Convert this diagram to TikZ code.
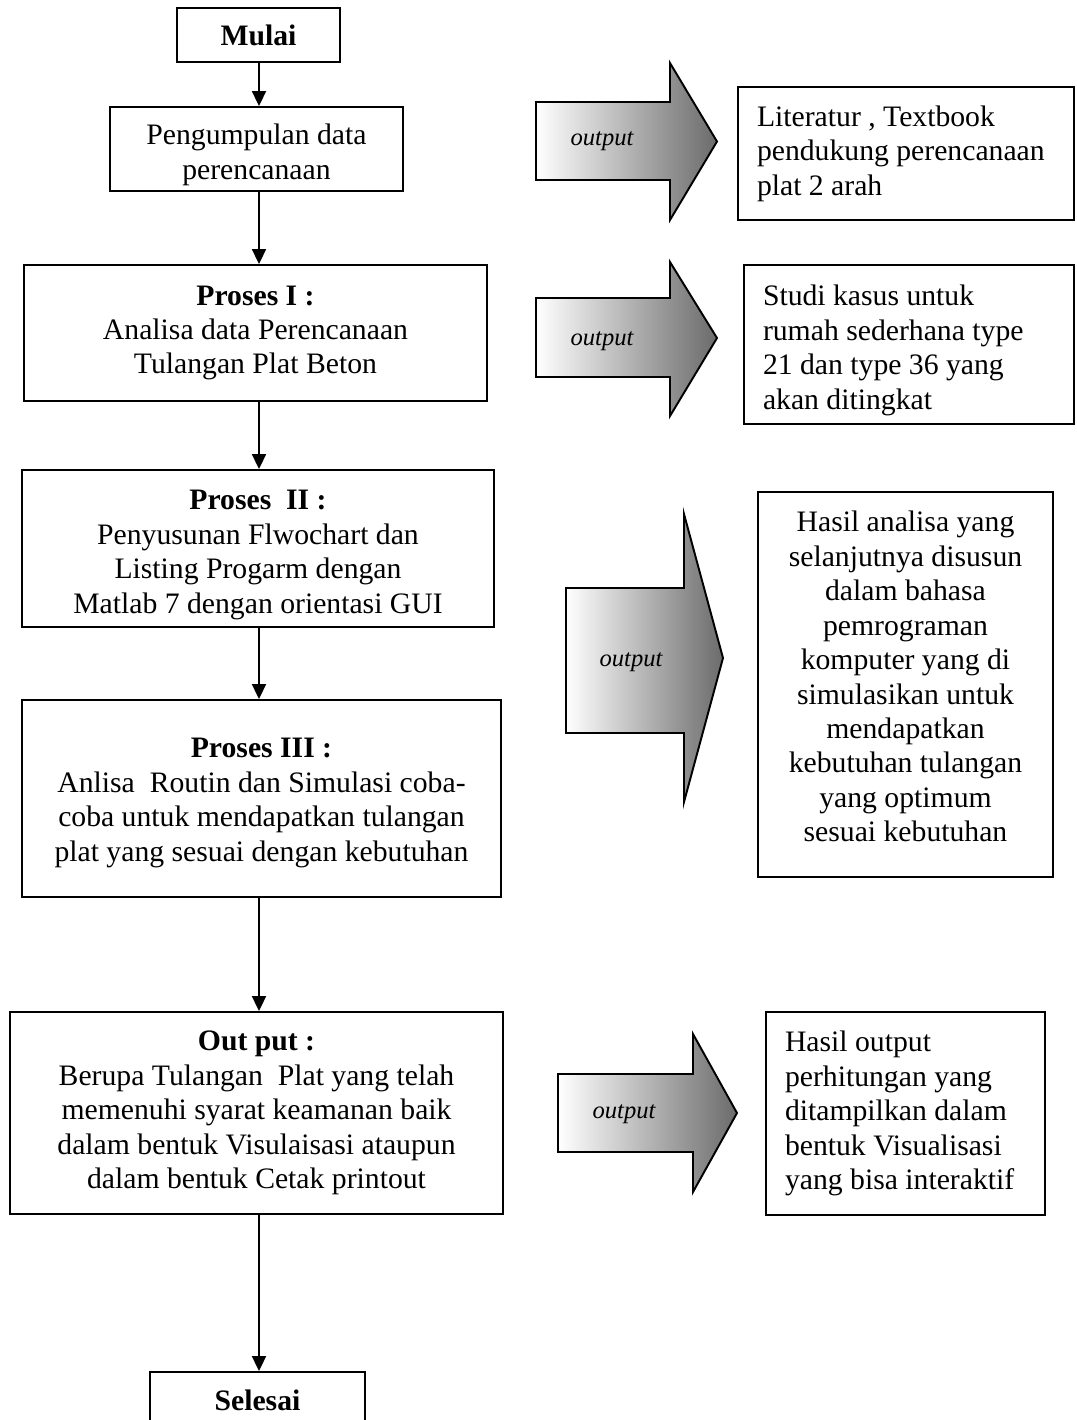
\documentclass[tikz,border=0pt]{standalone}
\usepackage{fontspec}
\setmainfont{Liberation Serif}
\usetikzlibrary{arrows.meta}
\newcommand\mainsz{\fontsize{16.9}{19.6}\selectfont}
\newcommand\outsz{\fontsize{14}{16}\selectfont\itshape}
\newcommand\downby[1]{\rule{0pt}{\dimexpr 0.69em+#1\relax}}
\newcommand\upby[1]{\rule[-#1]{0pt}{1pt}}
\begin{document}
\begin{tikzpicture}[x=0.02cm,y=-0.02cm,
  bx/.style={draw, line width=1.1pt, inner xsep=19*0.02cm, inner ysep=0pt, align=center, font=\mainsz},
  lbx/.style={bx, align=flush left},
  conn/.style={line width=0.9pt, -{Triangle[length=8.5pt,width=8pt]}},
  bigarrow/.style={draw, line width=1.1pt, left color=white, right color=black!58, line join=miter},
  outtxt/.style={font=\outsz, inner sep=0pt}]
\useasboundingbox (0,0) rectangle (1076,1420);
\clip (0,0) rectangle (1076,1420);
\coordinate (spine) at (259,0);

% left column boxes
\node[bx, minimum width=163*0.02cm, minimum height=54*0.02cm] (mulai) at (258.5,35) {\textbf{Mulai}};
\node[bx, minimum width=293*0.02cm, minimum height=84*0.02cm] (peng) at (256.5,149) {\downby{6.8pt}Pengumpulan data\\perencanaan};
\node[bx, minimum width=463*0.02cm, minimum height=136*0.02cm] (p1) at (255.5,333) {\textbf{Proses I :}\\Analisa data Perencanaan\\Tulangan Plat Beton};
\node[bx, minimum width=472*0.02cm, minimum height=157*0.02cm] (p2) at (258,548.5) {\downby{6.8pt}\textbf{Proses\ \ II :}\\Penyusunan Flwochart dan\\Listing Progarm dengan\\Matlab 7 dengan orientasi GUI};
\node[bx, minimum width=479*0.02cm, minimum height=197*0.02cm] (p3) at (261.5,798.5) {\downby{4.5pt}\textbf{Proses III :}\\Anlisa\ \ Routin dan Simulasi coba-\\coba untuk mendapatkan tulangan\\plat yang sesuai dengan kebutuhan};
\node[bx, minimum width=493*0.02cm, minimum height=202*0.02cm] (outp) at (256.5,1113) {\textbf{Out put :}\\Berupa Tulangan\ \ Plat yang telah\\memenuhi syarat keamanan baik\\dalam bentuk Visulaisasi ataupun\\dalam bentuk Cetak printout};
\node[bx, minimum width=215*0.02cm, minimum height=56*0.02cm] (selesai) at (257.5,1400) {\textbf{Selesai}};

% connectors
\draw[conn] (mulai.south -| spine) -- (peng.north -| spine);
\draw[conn] (peng.south -| spine) -- (p1.north -| spine);
\draw[conn] (p1.south -| spine) -- (p2.north -| spine);
\draw[conn] (p2.south -| spine) -- (p3.north -| spine);
\draw[conn] (p3.south -| spine) -- (outp.north -| spine);
\draw[conn] (outp.south -| spine) -- (selesai.north -| spine);

% block arrows
\draw[bigarrow] (536,102) -- (670,102) -- (670,63) -- (717,141.5) -- (670,220) -- (670,180) -- (536,180) -- cycle;
\draw[bigarrow] (536,298) -- (670,298) -- (670,262) -- (717,338) -- (670,416) -- (670,377) -- (536,377) -- cycle;
\draw[bigarrow] (566,588) -- (684,588) -- (684,514) -- (723,658) -- (684,802) -- (684,733) -- (566,733) -- cycle;
\draw[bigarrow] (558,1074) -- (693,1074) -- (693,1034) -- (737,1113) -- (693,1192) -- (693,1152) -- (558,1152) -- cycle;
\node[outtxt] (o1) at (602,141) {output};
\node[outtxt] (o2) at (602,341) {output};
\node[outtxt] (o3) at (631,662) {output};
\node[outtxt] (o4) at (624,1114) {output};

% right column boxes
\node[lbx, text width=298*0.02cm, minimum width=336*0.02cm, minimum height=133*0.02cm] (r1) at (906,153.5) {Literatur , Textbook\\pendukung perencanaan\\plat 2 arah};
\node[lbx, text width=292*0.02cm, minimum width=330*0.02cm, minimum height=159*0.02cm] (r2) at (909,344.5) {\downby{6.8pt}Studi kasus untuk\\rumah sederhana type\\21 dan type 36 yang\\akan ditingkat};
\node[bx, minimum width=295*0.02cm, minimum height=385*0.02cm] (r3) at (905.5,684.5) {Hasil analisa yang\\selanjutnya disusun\\dalam bahasa\\pemrograman\\komputer yang di\\simulasikan untuk\\mendapatkan\\kebutuhan tulangan\\yang optimum\\sesuai kebutuhan\upby{9.1pt}};
\node[lbx, text width=241*0.02cm, minimum width=279*0.02cm, minimum height=203*0.02cm] (r4) at (905.5,1113.5) {Hasil output\\perhitungan yang\\ditampilkan dalam\\bentuk Visualisasi\\yang bisa interaktif};
\end{tikzpicture}
\end{document}
